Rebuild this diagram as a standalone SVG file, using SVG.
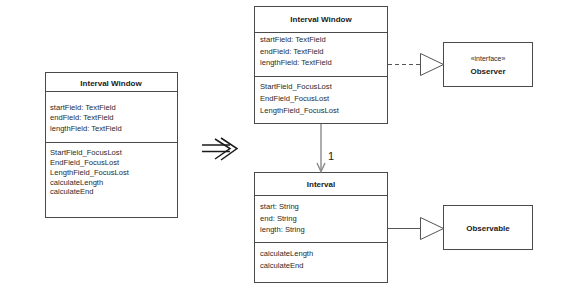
<svg xmlns="http://www.w3.org/2000/svg" width="561" height="295" viewBox="0 0 561 295">
  <style>
    .box { fill: #ffffff; stroke: #4a4a4a; stroke-width: 1; }
    .sep { stroke: #4a4a4a; stroke-width: 1; }
    .title { font-family: "Liberation Sans", Arial, sans-serif; font-size: 8px; font-weight: bold; fill: #1a1a1a; text-anchor: middle; dominant-baseline: central; }
    .member { font-family: "Liberation Sans", Arial, sans-serif; font-size: 7.6px; fill: #2a2a2a; dominant-baseline: central; }
    .stereo { font-family: "Liberation Sans", Arial, sans-serif; font-size: 7px; fill: #2a2a2a; text-anchor: middle; dominant-baseline: central; }
    .line { fill: none; stroke: #555555; stroke-width: 1; }
    .dashed { stroke-dasharray: 4 3; }
    .tri { fill: #ffffff; stroke: #555555; stroke-width: 1; }
    .assoc { fill: none; stroke: #8a8a8a; stroke-width: 1.4; }
    .label { font-family: "Liberation Sans", Arial, sans-serif; font-size: 11px; fill: #222222; }
  </style>

  <!-- original class, before refactoring -->
  <g id="interval-window-before">
    <rect class="box" x="45.5" y="72.5" width="132" height="145"/>
    <line class="sep" x1="45.5" y1="91.5" x2="177.5" y2="91.5"/>
    <line class="sep" x1="45.5" y1="142.5" x2="177.5" y2="142.5"/>
    <text class="title" x="111" y="83">Interval Window</text>
    <text class="member" x="50" y="107">startField: TextField</text>
    <text class="member" x="50" y="117.5">endField: TextField</text>
    <text class="member" x="50" y="128">lengthField: TextField</text>
    <text class="member" x="50" y="152">StartField_FocusLost</text>
    <text class="member" x="50" y="162">EndField_FocusLost</text>
    <text class="member" x="50" y="172">LengthField_FocusLost</text>
    <text class="member" x="50" y="182">calculateLength</text>
    <text class="member" x="50" y="191.5">calculateEnd</text>
  </g>

  <!-- refactoring arrow -->
  <g id="transform-arrow" fill="none" stroke="#1a1a1a" stroke-width="1.5">
    <line x1="202" y1="145" x2="230" y2="145"/>
    <line x1="202" y1="151.5" x2="230" y2="151.5"/>
    <polyline points="221,138 237,148.5 221,160"/>
    <polyline points="215,139 230,148.5 215,159"/>
  </g>

  <!-- GUI class after refactoring -->
  <g id="interval-window">
    <rect class="box" x="254.5" y="6.5" width="133" height="117"/>
    <line class="sep" x1="254.5" y1="32.5" x2="387.5" y2="32.5"/>
    <line class="sep" x1="254.5" y1="76.5" x2="387.5" y2="76.5"/>
    <text class="title" x="321" y="19">Interval Window</text>
    <text class="member" x="260" y="39.5">startField: TextField</text>
    <text class="member" x="260" y="51">endField: TextField</text>
    <text class="member" x="260" y="62">lengthField: TextField</text>
    <text class="member" x="260" y="86">StartField_FocusLost</text>
    <text class="member" x="260" y="98">EndField_FocusLost</text>
    <text class="member" x="260" y="110">LengthField_FocusLost</text>
  </g>

  <!-- domain class -->
  <g id="interval">
    <rect class="box" x="254.5" y="172.5" width="133" height="110"/>
    <line class="sep" x1="254.5" y1="195.5" x2="387.5" y2="195.5"/>
    <line class="sep" x1="254.5" y1="242.5" x2="387.5" y2="242.5"/>
    <text class="title" x="321" y="184">Interval</text>
    <text class="member" x="260" y="206">start: String</text>
    <text class="member" x="260" y="218">end: String</text>
    <text class="member" x="260" y="229.5">length: String</text>
    <text class="member" x="260" y="253">calculateLength</text>
    <text class="member" x="260" y="265.5">calculateEnd</text>
  </g>

  <g id="observer">
    <rect class="box" x="443.5" y="42.5" width="89" height="44"/>
    <text class="stereo" x="488" y="58.5">«interface»</text>
    <text class="title" x="488" y="71">Observer</text>
  </g>

  <g id="observable">
    <rect class="box" x="443.5" y="205.5" width="89" height="44"/>
    <text class="title" x="488" y="228">Observable</text>
  </g>

  <g id="connectors">
    <!-- realization: Interval Window implements Observer -->
    <line class="line dashed" x1="388" y1="64.5" x2="420" y2="64.5"/>
    <polygon class="tri" points="420.5,53.5 443.5,64.5 420.5,75.5"/>
    <!-- generalization: Interval extends Observable -->
    <line class="line" x1="388" y1="228.5" x2="420" y2="228.5"/>
    <polygon class="tri" points="420.5,217.5 443.5,228.5 420.5,239.5"/>
    <!-- navigable association -->
    <line class="assoc" x1="321" y1="124" x2="321" y2="171.5"/>
    <polyline class="assoc" points="317,163 321,171.5 325,163"/>
    <text class="label" x="328" y="160">1</text>
  </g>
</svg>
